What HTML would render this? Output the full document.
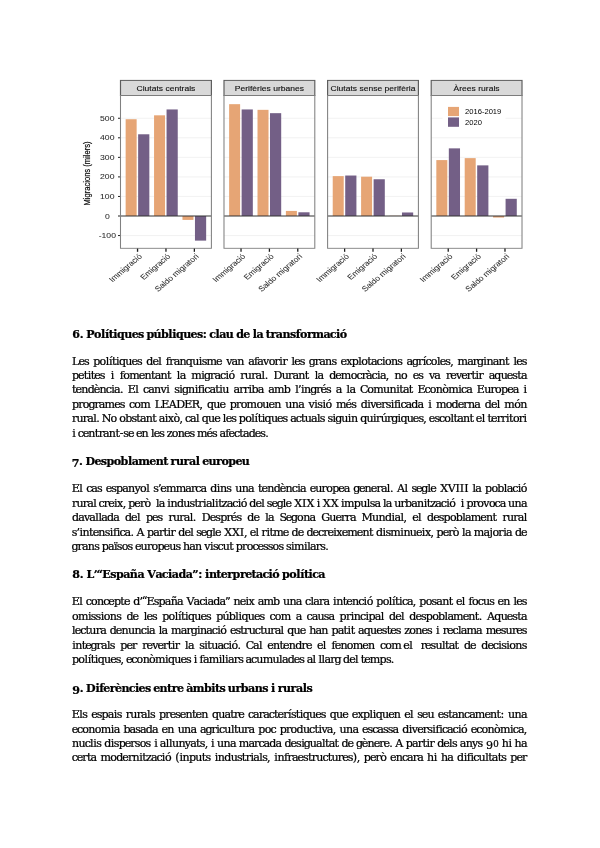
<!DOCTYPE html>
<html lang="ca">
<head>
<meta charset="utf-8">
<title>Document</title>
<style>
html,body{margin:0;padding:0;background:#fff;}
body{width:600px;height:848px;overflow:hidden;position:relative;}
svg{position:absolute;left:0;top:0;display:block;}
.r{font-family:"DejaVu Serif","Liberation Serif",serif;font-size:11.09px;white-space:pre;fill:#000;stroke:#000;stroke-width:0.24px;}
.b{font-family:"DejaVu Serif","Liberation Serif",serif;font-size:11.09px;font-weight:bold;white-space:pre;fill:#000;stroke:#000;stroke-width:0.24px;}
.c text{font-family:"Liberation Sans",sans-serif;}
</style>
</head>
<body>
<svg class="c" width="600" height="320" viewBox="0 0 600 320" role="img" aria-label="Migracions (milers)">
<defs><filter id="bl" x="-5%" y="-5%" width="110%" height="110%"><feGaussianBlur stdDeviation="0.45"/></filter></defs>
<g filter="url(#bl)"><g transform="scale(1.17 1)" stroke="#333" stroke-width="0">
<text x="91.71" y="238.15" text-anchor="middle" font-size="7.4" fill="#2a2a2a" stroke="#2a2a2a" stroke-width="0.05">-100</text>
<line x1="100.85" x2="102.99" y1="235.55" y2="235.55" stroke="#222" stroke-width="1"/>
<text x="91.71" y="218.60" text-anchor="middle" font-size="7.4" fill="#2a2a2a" stroke="#2a2a2a" stroke-width="0.05">0</text>
<line x1="100.85" x2="102.99" y1="216.00" y2="216.00" stroke="#222" stroke-width="1"/>
<text x="91.71" y="199.05" text-anchor="middle" font-size="7.4" fill="#2a2a2a" stroke="#2a2a2a" stroke-width="0.05">100</text>
<line x1="100.85" x2="102.99" y1="196.45" y2="196.45" stroke="#222" stroke-width="1"/>
<text x="91.71" y="179.50" text-anchor="middle" font-size="7.4" fill="#2a2a2a" stroke="#2a2a2a" stroke-width="0.05">200</text>
<line x1="100.85" x2="102.99" y1="176.90" y2="176.90" stroke="#222" stroke-width="1"/>
<text x="91.71" y="159.95" text-anchor="middle" font-size="7.4" fill="#2a2a2a" stroke="#2a2a2a" stroke-width="0.05">300</text>
<line x1="100.85" x2="102.99" y1="157.35" y2="157.35" stroke="#222" stroke-width="1"/>
<text x="91.71" y="140.40" text-anchor="middle" font-size="7.4" fill="#2a2a2a" stroke="#2a2a2a" stroke-width="0.05">400</text>
<line x1="100.85" x2="102.99" y1="137.80" y2="137.80" stroke="#222" stroke-width="1"/>
<text x="91.71" y="120.85" text-anchor="middle" font-size="7.4" fill="#2a2a2a" stroke="#2a2a2a" stroke-width="0.05">500</text>
<line x1="100.85" x2="102.99" y1="118.25" y2="118.25" stroke="#222" stroke-width="1"/>
<text transform="translate(76.50 173.5) rotate(-90)" text-anchor="middle" font-size="7.6" fill="#000" stroke="#000" stroke-width="0.15">Migracions (milers)</text>
<rect x="102.99" y="95.50" width="77.69" height="152.80" fill="#fff"/>
<line x1="102.99" x2="180.68" y1="235.55" y2="235.55" stroke="#ebebeb" stroke-width="0.6"/>
<line x1="102.99" x2="180.68" y1="196.45" y2="196.45" stroke="#ebebeb" stroke-width="0.6"/>
<line x1="102.99" x2="180.68" y1="176.90" y2="176.90" stroke="#ebebeb" stroke-width="0.6"/>
<line x1="102.99" x2="180.68" y1="157.35" y2="157.35" stroke="#ebebeb" stroke-width="0.6"/>
<line x1="102.99" x2="180.68" y1="137.80" y2="137.80" stroke="#ebebeb" stroke-width="0.6"/>
<line x1="102.99" x2="180.68" y1="118.25" y2="118.25" stroke="#ebebeb" stroke-width="0.6"/>
<rect x="107.39" y="119.23" width="9.40" height="96.77" fill="#E6A574"/>
<rect x="118.07" y="134.28" width="9.57" height="81.72" fill="#735F86"/>
<rect x="131.67" y="115.32" width="9.40" height="100.68" fill="#E6A574"/>
<rect x="142.35" y="109.45" width="9.57" height="106.55" fill="#735F86"/>
<rect x="155.95" y="216.00" width="9.40" height="3.91" fill="#E6A574"/>
<rect x="166.63" y="216.00" width="9.57" height="24.63" fill="#735F86"/>
<line x1="102.99" x2="180.68" y1="216.00" y2="216.00" stroke="#333" stroke-width="0.9"/>
<rect x="102.99" y="80.40" width="77.69" height="15.10" fill="#d9d9d9" stroke="#5c5c5c" stroke-width="1"/>
<text x="141.84" y="90.90" text-anchor="middle" font-size="7.3" fill="#111" stroke="#111" stroke-width="0.12">Ciutats centrals</text>
<rect x="102.99" y="95.50" width="77.69" height="152.80" fill="none" stroke="#808080" stroke-width="0.9"/>
<line x1="117.56" x2="117.56" y1="248.60" y2="251.80" stroke="#1a1a1a" stroke-width="1.1"/>
<text transform="translate(121.83 256.90) rotate(-45)" text-anchor="end" font-size="7.4" fill="#2a2a2a" stroke="#2a2a2a" stroke-width="0.05">Immigració</text>
<line x1="141.84" x2="141.84" y1="248.60" y2="251.80" stroke="#1a1a1a" stroke-width="1.1"/>
<text transform="translate(146.11 256.90) rotate(-45)" text-anchor="end" font-size="7.4" fill="#2a2a2a" stroke="#2a2a2a" stroke-width="0.05">Emigració</text>
<line x1="166.12" x2="166.12" y1="248.60" y2="251.80" stroke="#1a1a1a" stroke-width="1.1"/>
<text transform="translate(170.39 256.90) rotate(-45)" text-anchor="end" font-size="7.4" fill="#2a2a2a" stroke="#2a2a2a" stroke-width="0.05">Saldo migratori</text>
<rect x="191.45" y="95.50" width="77.61" height="152.80" fill="#fff"/>
<line x1="191.45" x2="269.06" y1="235.55" y2="235.55" stroke="#ebebeb" stroke-width="0.6"/>
<line x1="191.45" x2="269.06" y1="196.45" y2="196.45" stroke="#ebebeb" stroke-width="0.6"/>
<line x1="191.45" x2="269.06" y1="176.90" y2="176.90" stroke="#ebebeb" stroke-width="0.6"/>
<line x1="191.45" x2="269.06" y1="157.35" y2="157.35" stroke="#ebebeb" stroke-width="0.6"/>
<line x1="191.45" x2="269.06" y1="137.80" y2="137.80" stroke="#ebebeb" stroke-width="0.6"/>
<line x1="191.45" x2="269.06" y1="118.25" y2="118.25" stroke="#ebebeb" stroke-width="0.6"/>
<rect x="195.83" y="104.17" width="9.40" height="111.83" fill="#E6A574"/>
<rect x="206.52" y="109.45" width="9.57" height="106.55" fill="#735F86"/>
<rect x="220.09" y="109.84" width="9.40" height="106.16" fill="#E6A574"/>
<rect x="230.77" y="113.17" width="9.57" height="102.83" fill="#735F86"/>
<rect x="244.34" y="210.92" width="9.40" height="5.08" fill="#E6A574"/>
<rect x="255.02" y="212.29" width="9.57" height="3.71" fill="#735F86"/>
<line x1="191.45" x2="269.06" y1="216.00" y2="216.00" stroke="#333" stroke-width="0.9"/>
<rect x="191.45" y="80.40" width="77.61" height="15.10" fill="#d9d9d9" stroke="#5c5c5c" stroke-width="1"/>
<text x="230.26" y="90.90" text-anchor="middle" font-size="7.3" fill="#111" stroke="#111" stroke-width="0.12">Perifèries urbanes</text>
<rect x="191.45" y="95.50" width="77.61" height="152.80" fill="none" stroke="#808080" stroke-width="0.9"/>
<line x1="206.00" x2="206.00" y1="248.60" y2="251.80" stroke="#1a1a1a" stroke-width="1.1"/>
<text transform="translate(210.28 256.90) rotate(-45)" text-anchor="end" font-size="7.4" fill="#2a2a2a" stroke="#2a2a2a" stroke-width="0.05">Immigració</text>
<line x1="230.26" x2="230.26" y1="248.60" y2="251.80" stroke="#1a1a1a" stroke-width="1.1"/>
<text transform="translate(234.53 256.90) rotate(-45)" text-anchor="end" font-size="7.4" fill="#2a2a2a" stroke="#2a2a2a" stroke-width="0.05">Emigració</text>
<line x1="254.51" x2="254.51" y1="248.60" y2="251.80" stroke="#1a1a1a" stroke-width="1.1"/>
<text transform="translate(258.78 256.90) rotate(-45)" text-anchor="end" font-size="7.4" fill="#2a2a2a" stroke="#2a2a2a" stroke-width="0.05">Saldo migratori</text>
<rect x="280.00" y="95.50" width="77.61" height="152.80" fill="#fff"/>
<line x1="280.00" x2="357.61" y1="235.55" y2="235.55" stroke="#ebebeb" stroke-width="0.6"/>
<line x1="280.00" x2="357.61" y1="196.45" y2="196.45" stroke="#ebebeb" stroke-width="0.6"/>
<line x1="280.00" x2="357.61" y1="176.90" y2="176.90" stroke="#ebebeb" stroke-width="0.6"/>
<line x1="280.00" x2="357.61" y1="157.35" y2="157.35" stroke="#ebebeb" stroke-width="0.6"/>
<line x1="280.00" x2="357.61" y1="137.80" y2="137.80" stroke="#ebebeb" stroke-width="0.6"/>
<line x1="280.00" x2="357.61" y1="118.25" y2="118.25" stroke="#ebebeb" stroke-width="0.6"/>
<rect x="284.38" y="176.12" width="9.40" height="39.88" fill="#E6A574"/>
<rect x="295.06" y="175.53" width="9.57" height="40.47" fill="#735F86"/>
<rect x="308.63" y="176.70" width="9.40" height="39.30" fill="#E6A574"/>
<rect x="319.32" y="179.25" width="9.57" height="36.75" fill="#735F86"/>
<rect x="332.88" y="215.80" width="9.40" height="0.20" fill="#E6A574"/>
<rect x="343.57" y="212.48" width="9.57" height="3.52" fill="#735F86"/>
<line x1="280.00" x2="357.61" y1="216.00" y2="216.00" stroke="#333" stroke-width="0.9"/>
<rect x="280.00" y="80.40" width="77.61" height="15.10" fill="#d9d9d9" stroke="#5c5c5c" stroke-width="1"/>
<text x="318.80" y="90.90" text-anchor="middle" font-size="7.3" fill="#111" stroke="#111" stroke-width="0.12">Ciutats sense perifèria</text>
<rect x="280.00" y="95.50" width="77.61" height="152.80" fill="none" stroke="#808080" stroke-width="0.9"/>
<line x1="294.55" x2="294.55" y1="248.60" y2="251.80" stroke="#1a1a1a" stroke-width="1.1"/>
<text transform="translate(298.82 256.90) rotate(-45)" text-anchor="end" font-size="7.4" fill="#2a2a2a" stroke="#2a2a2a" stroke-width="0.05">Immigració</text>
<line x1="318.80" x2="318.80" y1="248.60" y2="251.80" stroke="#1a1a1a" stroke-width="1.1"/>
<text transform="translate(323.08 256.90) rotate(-45)" text-anchor="end" font-size="7.4" fill="#2a2a2a" stroke="#2a2a2a" stroke-width="0.05">Emigració</text>
<line x1="343.06" x2="343.06" y1="248.60" y2="251.80" stroke="#1a1a1a" stroke-width="1.1"/>
<text transform="translate(347.33 256.90) rotate(-45)" text-anchor="end" font-size="7.4" fill="#2a2a2a" stroke="#2a2a2a" stroke-width="0.05">Saldo migratori</text>
<rect x="368.55" y="95.50" width="77.61" height="152.80" fill="#fff"/>
<line x1="368.55" x2="446.15" y1="235.55" y2="235.55" stroke="#ebebeb" stroke-width="0.6"/>
<line x1="368.55" x2="446.15" y1="196.45" y2="196.45" stroke="#ebebeb" stroke-width="0.6"/>
<line x1="368.55" x2="446.15" y1="176.90" y2="176.90" stroke="#ebebeb" stroke-width="0.6"/>
<line x1="368.55" x2="446.15" y1="157.35" y2="157.35" stroke="#ebebeb" stroke-width="0.6"/>
<line x1="368.55" x2="446.15" y1="137.80" y2="137.80" stroke="#ebebeb" stroke-width="0.6"/>
<line x1="368.55" x2="446.15" y1="118.25" y2="118.25" stroke="#ebebeb" stroke-width="0.6"/>
<rect x="372.93" y="160.09" width="9.40" height="55.91" fill="#E6A574"/>
<rect x="383.61" y="148.36" width="9.57" height="67.64" fill="#735F86"/>
<rect x="397.18" y="158.13" width="9.40" height="57.87" fill="#E6A574"/>
<rect x="407.86" y="165.37" width="9.57" height="50.63" fill="#735F86"/>
<rect x="421.43" y="216.00" width="9.40" height="1.56" fill="#E6A574"/>
<rect x="432.12" y="198.80" width="9.57" height="17.20" fill="#735F86"/>
<line x1="368.55" x2="446.15" y1="216.00" y2="216.00" stroke="#333" stroke-width="0.9"/>
<rect x="368.55" y="80.40" width="77.61" height="15.10" fill="#d9d9d9" stroke="#5c5c5c" stroke-width="1"/>
<text x="407.35" y="90.90" text-anchor="middle" font-size="7.3" fill="#111" stroke="#111" stroke-width="0.12">Àrees rurals</text>
<rect x="368.55" y="95.50" width="77.61" height="152.80" fill="none" stroke="#808080" stroke-width="0.9"/>
<line x1="383.10" x2="383.10" y1="248.60" y2="251.80" stroke="#1a1a1a" stroke-width="1.1"/>
<text transform="translate(387.37 256.90) rotate(-45)" text-anchor="end" font-size="7.4" fill="#2a2a2a" stroke="#2a2a2a" stroke-width="0.05">Immigració</text>
<line x1="407.35" x2="407.35" y1="248.60" y2="251.80" stroke="#1a1a1a" stroke-width="1.1"/>
<text transform="translate(411.62 256.90) rotate(-45)" text-anchor="end" font-size="7.4" fill="#2a2a2a" stroke="#2a2a2a" stroke-width="0.05">Emigració</text>
<line x1="431.60" x2="431.60" y1="248.60" y2="251.80" stroke="#1a1a1a" stroke-width="1.1"/>
<text transform="translate(435.88 256.90) rotate(-45)" text-anchor="end" font-size="7.4" fill="#2a2a2a" stroke="#2a2a2a" stroke-width="0.05">Saldo migratori</text>
<rect x="378.21" y="101" width="53.85" height="30" fill="#fff"/>
<rect x="382.91" y="106.9" width="9.40" height="9.2" fill="#E6A574"/>
<rect x="382.91" y="117.4" width="9.40" height="9.4" fill="#735F86"/>
<text x="397.44" y="114.0" font-size="6.5" fill="#000">2016-2019</text>
<text x="397.44" y="125.0" font-size="6.5" fill="#000">2020</text>
</g></g>
</svg>
<svg class="t" width="600" height="848" viewBox="0 0 600 848" xml:space="preserve">
<g class="h"><text class="b" x="72.27 79.87 83.13 86.25 94.10 101.08 104.97 108.68 113.30 117.11 124.30 131.63 137.92 143.32 146.40 153.56 161.05 168.37 172.26 176.08 183.26 190.59 196.89 202.82 206.44 209.33 215.43 219.21 225.83 233.07 236.21 243.32 249.45 252.63 256.41 262.84 265.84 270.43 275.85 282.55 290.03 295.65 299.90 306.88 312.24 323.40 329.87 336.01 339.84" y="337.60">6. Polítiques públiques: clau de la transformació</text></g>
<g class="p">
<text class="r" x="71.96 78.39 83.91 88.72 93.23 99.60 105.73 108.94 112.03 116.03 118.99 125.27 131.43 136.95 141.76 146.27 152.40 158.18 161.12 165.75 169.22 173.64 179.45 185.85 192.13 198.75 201.69 206.56 216.10 221.64 226.15 231.54 237.35 243.78 248.15 254.01 257.36 263.10 268.64 274.58 279.36 282.38 286.87 291.57 294.33 299.84 304.65 308.81 314.81 319.22 325.04 331.43 336.24 340.52 346.15 351.69 358.23 361.24 367.25 370.89 376.41 381.89 384.93 390.96 397.35 402.16 406.54 411.92 417.92 422.69 425.50 430.77 436.91 439.67 445.18 450.15 452.99 457.49 467.13 472.85 477.05 483.28 486.38 492.72 498.53 505.07 508.79 513.49 516.25 521.76" y="364.50">Les polítiques del franquisme van afavorir les grans explotacions agrícoles, marginant les</text>
<text class="r" x="71.93 78.05 83.71 87.71 90.80 94.35 99.86 104.67 110.83 113.80 119.85 123.35 129.30 138.84 144.51 151.05 154.69 160.50 167.04 170.76 176.87 179.73 185.41 191.33 201.32 204.00 210.00 214.41 219.93 225.41 228.45 234.35 240.27 244.81 251.20 255.61 261.53 264.63 267.46 273.47 281.70 288.08 292.50 298.31 304.85 308.57 314.69 317.54 323.22 329.15 335.29 340.87 350.66 356.39 361.64 366.05 371.57 377.05 379.94 385.78 388.61 394.62 401.11 407.01 412.71 418.22 423.04 428.97 434.37 440.05 445.97 450.29 455.89 461.19 466.78 471.39 475.39 478.41 482.91 488.70 494.37 500.64 506.81 512.32 517.25 520.89" y="378.95">petites i fomentant la migració rural. Durant la democràcia, no es va revertir aquesta</text>
<text class="r" x="71.99 75.54 81.21 87.69 93.82 99.49 105.75 111.23 114.12 119.96 122.79 127.79 135.27 138.21 143.04 148.16 153.97 160.45 166.20 169.17 174.14 179.23 181.91 187.99 194.69 197.84 201.54 204.35 209.47 215.27 219.27 222.29 228.62 233.54 239.27 243.81 248.58 251.54 257.69 263.37 268.29 274.02 283.71 289.95 295.18 298.03 300.91 304.01 310.13 316.13 320.45 325.97 330.78 335.70 341.38 346.61 349.46 355.14 359.89 367.34 373.28 383.04 389.51 396.21 399.30 402.94 408.74 412.46 417.46 424.54 429.81 435.84 442.33 448.27 458.27 461.08 466.19 471.87 476.87 484.16 490.55 495.11 501.06 507.19 512.65 518.33 523.60" y="393.40">tendència. El canvi significatiu arriba amb l’ingrés a la Comunitat Econòmica Europea i</text>
<text class="r" x="71.93 78.27 82.84 88.44 94.44 98.85 104.58 114.13 119.64 124.45 128.99 134.26 140.20 149.92 154.71 161.31 168.70 176.13 184.31 191.70 199.51 202.34 207.03 213.31 219.47 225.01 229.76 236.11 240.68 246.62 256.41 262.35 268.52 274.19 280.61 285.35 291.82 298.16 303.84 308.60 314.35 317.30 322.39 325.43 331.33 336.08 345.62 351.13 355.94 360.70 367.28 370.32 375.62 381.20 385.67 390.76 393.91 397.62 400.43 405.55 411.28 417.51 423.19 428.16 431.14 435.89 445.67 451.62 457.76 463.34 467.97 474.31 479.99 484.75 490.88 496.66 499.59 504.34 514.13 520.15" y="407.85">programes com LEADER, que promouen una visió més diversificada i moderna del món</text>
<text class="r" x="71.92 76.46 82.85 87.27 93.18 96.28 99.11 101.79 110.54 116.43 119.35 125.23 131.44 136.37 140.01 145.82 152.36 156.08 158.85 164.80 167.86 173.42 179.48 182.32 185.00 190.12 196.04 198.97 201.80 208.08 214.24 219.78 222.87 225.63 231.14 235.96 238.86 245.23 251.36 254.57 257.66 261.66 264.62 270.90 277.06 282.57 287.39 290.15 295.67 300.99 304.76 311.01 316.93 319.84 324.65 327.47 332.56 335.24 341.24 347.85 350.95 357.37 360.21 366.48 373.10 376.12 380.66 387.05 391.25 397.47 400.43 406.71 412.87 418.39 423.36 426.19 428.87 434.38 439.03 444.30 450.44 453.49 457.13 462.94 469.48 473.20 475.87 481.65 484.59 487.55 491.10 496.68 501.23 506.00 509.09 512.88 518.83 523.60" y="422.30">rural. No obstant això, cal que les polítiques actuals siguin quirúrgiques, escoltant el territori</text>
<text class="r" x="72.15 75.12 77.64 82.66 88.33 94.87 98.64 103.06 108.87 115.40 119.75 123.25 127.89 133.43 135.93 141.60 148.02 150.93 153.70 159.21 164.02 166.66 171.68 177.71 183.96 189.47 194.29 197.01 206.55 212.06 216.88 219.47 225.33 228.59 233.96 239.28 242.92 248.66 254.79 260.30 265.27" y="436.75">i centrant-se en les zones més afectades.</text>
</g>
<g class="h"><text class="b" x="71.82 78.98 82.25 85.45 94.51 100.80 106.43 113.67 120.57 127.89 131.67 138.28 149.28 155.68 163.15 167.40 170.59 175.94 183.52 188.94 195.70 199.22 202.16 208.48 216.06 221.49 228.37 235.44 241.76" y="466.95 464.65 464.65 464.65 464.65 464.65 464.65 464.65 464.65 464.65 464.65 464.65 464.65 464.65 464.65 464.65 464.65 464.65 464.65 464.65 464.65 464.65 464.65 464.65 464.65 464.65 464.65 464.65 464.65">7. Despoblament rural europeu</text></g>
<g class="p">
<text class="r" x="71.87 79.36 82.29 86.20 91.32 96.97 101.78 105.68 111.19 116.06 122.27 128.08 134.53 140.04 146.17 149.11 153.15 157.88 160.30 165.89 175.65 185.29 191.01 195.35 200.46 206.15 210.27 216.85 219.95 226.35 231.16 235.28 241.75 248.09 253.77 257.95 261.50 267.17 273.65 279.78 285.45 291.71 297.19 300.08 305.76 309.65 315.24 321.62 326.19 332.14 338.27 343.73 349.41 353.18 358.95 364.62 370.87 376.46 380.88 386.79 389.89 392.72 396.93 404.47 407.40 411.44 416.08 421.33 427.52 430.28 435.82 440.30 447.87 455.54 459.86 464.18 468.11 472.41 475.27 480.95 485.07 491.44 497.32 503.79 506.64 512.16 517.63 520.68" y="492.15">El cas espanyol s’emmarca dins una tendència europea general. Al segle XVIII la població</text>
<text class="r" x="71.92 76.46 82.85 87.27 93.18 96.12 98.59 103.83 108.16 113.97 117.03 122.68 125.52 128.20 134.33 139.91 144.48 150.38 155.88 158.73 164.41 167.32 170.43 176.90 183.26 189.57 194.50 198.27 203.04 205.93 211.85 215.06 218.15 221.84 226.71 232.23 237.70 240.75 246.64 249.33 255.46 261.24 264.18 266.78 271.42 276.66 282.85 285.61 291.15 294.20 302.06 306.40 313.86 316.77 319.74 322.79 330.67 338.13 341.04 344.06 353.83 360.18 366.75 369.66 374.39 380.07 382.94 385.80 391.48 394.16 400.54 405.02 411.17 416.98 423.68 426.77 430.46 435.33 440.85 446.32 449.37 455.26 460.80 463.78 466.46 472.81 477.37 483.33 488.88 494.61 499.73 505.41 508.09 514.55 520.89" y="506.60">rural creix, però la industrialització del segle XIX i XX impulsa la urbanització i provoca una</text>
<text class="r" x="71.93 78.16 83.90 89.29 95.21 98.38 101.23 106.97 113.20 118.88 124.97 131.10 136.88 139.82 145.91 152.03 157.55 162.36 168.45 172.99 179.37 183.79 189.71 192.80 195.64 201.81 209.82 215.33 220.20 226.54 230.87 236.38 241.20 247.29 253.42 258.96 265.24 268.09 273.77 279.55 285.86 291.10 297.12 303.15 309.49 315.17 321.23 329.30 335.46 341.05 345.59 350.01 355.69 361.62 372.06 378.53 385.01 391.59 394.48 400.40 403.50 406.33 412.20 417.97 420.91 427.00 433.14 438.65 443.51 449.89 455.77 462.24 465.09 470.82 480.36 486.03 492.57 496.29 502.38 506.92 513.31 517.72 523.64" y="521.05">davallada del pes rural. Després de la Segona Guerra Mundial, el despoblament rural</text>
<text class="r" x="71.85 76.58 79.45 82.55 89.09 92.64 98.31 104.71 109.80 112.95 116.65 119.46 124.58 130.42 133.25 136.52 143.82 147.00 153.22 158.95 163.56 167.56 170.58 175.08 178.26 184.40 190.17 193.11 196.21 200.85 206.09 212.28 215.04 220.58 224.13 232.01 239.86 243.95 246.78 249.74 255.51 258.45 261.62 266.40 269.49 273.26 282.80 288.34 291.52 297.66 303.20 306.38 312.51 317.89 323.14 327.46 333.28 336.33 341.65 347.24 356.78 362.45 368.99 372.71 375.90 382.48 385.43 390.29 400.28 403.38 409.85 416.02 421.83 424.89 430.54 433.38 436.56 442.68 448.27 452.84 458.73 462.10 464.95 470.63 473.81 483.45 489.45 492.43 498.37 503.15 506.04 511.72 514.90 521.04" y="535.50">s’intensifica. A partir del segle XXI, el ritme de decreixement disminueix, però la majoria de</text>
<text class="r" x="71.58 77.57 81.99 87.80 94.20 99.01 101.74 107.96 113.91 116.86 121.74 127.61 132.43 134.93 140.51 146.90 151.47 157.41 163.54 169.13 175.44 180.25 183.01 189.30 195.11 201.53 204.27 210.02 212.96 217.62 222.86 229.32 233.04 235.76 242.11 246.68 252.41 257.44 262.95 267.74 272.62 278.49 283.31 285.95 291.04 294.07 304.06 307.27 310.12 315.85 320.32 325.29" y="549.95">grans països europeus han viscut processos similars.</text>
</g>
<g class="h"><text class="b" x="72.27 79.87 83.13 86.39 93.65 96.61 102.36 110.31 115.93 123.16 129.86 137.44 143.87 147.13 155.40 161.87 168.01 171.83 178.54 185.82 192.29 198.23 201.86 205.07 208.90 216.37 220.71 227.18 232.58 239.89 245.14 251.42 255.93 262.40 268.54 272.37 279.02 282.10 289.34 296.32 300.21 303.92 308.54 312.14 318.17" y="577.75">8. L’“España Vaciada”: interpretació política</text></g>
<g class="p">
<text class="r" x="71.87 79.36 82.29 85.78 91.05 97.07 103.33 108.36 113.95 120.37 123.92 129.46 133.16 139.39 141.85 146.53 153.75 158.62 164.84 170.65 176.99 182.67 186.43 193.62 199.13 204.61 207.50 213.24 219.46 225.01 229.70 233.48 239.72 245.54 248.60 254.09 257.66 263.39 273.09 279.32 283.01 289.48 295.82 301.50 304.99 310.42 313.28 319.01 323.42 329.10 333.03 336.13 342.67 346.22 351.89 358.15 363.62 366.67 372.56 376.26 382.63 388.77 391.98 395.07 399.07 401.88 407.00 412.84 415.67 419.37 425.74 431.61 436.34 442.16 448.69 452.42 455.89 461.67 464.60 468.43 471.93 477.66 482.91 489.22 494.03 497.51 503.18 509.60 513.49 516.25 521.76" y="605.25">El concepte d’“España Vaciada” neix amb una clara intenció política, posant el focus en les</text>
<text class="r" x="71.95 77.89 87.88 90.83 95.61 100.70 103.75 109.78 116.17 120.98 126.41 132.54 138.08 143.69 146.45 151.96 156.78 162.20 168.57 174.71 177.92 181.01 185.01 187.96 194.24 200.41 205.92 210.73 216.15 222.50 228.82 235.29 238.51 241.46 247.74 253.91 259.42 264.23 269.44 274.71 280.65 290.37 295.66 301.34 306.55 311.66 317.39 323.70 328.43 334.11 339.54 345.88 350.66 353.76 360.02 365.49 368.52 374.74 380.66 383.59 389.02 395.15 400.93 403.86 409.29 415.42 420.93 425.80 432.17 438.05 444.52 447.38 453.11 462.65 468.32 474.86 478.74 481.57 487.08 494.37 500.64 506.81 512.32 517.25 520.89" y="619.70">omissions de les polítiques públiques com a causa principal del despoblament. Aquesta</text>
<text class="r" x="72.11 74.87 80.25 85.57 89.34 95.72 100.14 105.82 109.66 115.79 121.46 127.93 134.40 140.66 146.13 149.03 154.71 158.73 161.59 167.27 171.10 180.74 186.47 190.66 196.89 200.00 206.34 211.85 217.33 220.37 226.27 229.88 235.40 240.33 244.10 248.64 254.82 260.13 263.90 270.28 274.70 280.62 283.55 287.33 293.60 299.77 305.31 309.18 315.47 321.28 327.70 331.54 337.76 343.56 347.56 350.65 354.37 358.08 363.74 370.02 376.19 381.70 386.63 390.18 395.69 400.50 404.25 409.28 415.31 421.56 427.07 431.88 435.95 438.92 442.75 447.08 452.46 457.89 460.75 466.48 476.11 481.79 485.63 495.17 500.68 505.54 511.92 516.25 521.76" y="634.15">lectura denuncia la marginació estructural que han patit aquestes zones i reclama mesures</text>
<text class="r" x="72.15 75.25 81.79 85.34 90.58 96.58 101.00 106.92 109.82 114.64 120.33 126.46 132.04 136.54 142.23 146.55 152.15 157.45 163.04 167.65 171.65 174.67 179.17 185.05 187.90 193.58 199.19 204.28 207.37 211.14 217.40 222.92 228.39 231.44 237.49 240.33 245.71 253.01 258.93 261.87 267.33 273.00 279.54 283.09 288.76 295.24 301.59 305.92 311.45 316.92 322.70 325.63 331.45 334.71 340.38 346.87 352.82 362.36 368.03 374.45 379.93 385.20 391.14 400.86 403.36 409.14 412.07 420.72 425.05 430.56 435.42 442.00 445.05 448.69 454.49 458.21 463.91 470.04 475.58 481.28 487.41 492.79 498.26 501.21 506.30 509.34 515.37 521.76" y="648.60">integrals per revertir la situació. Cal entendre el fenomen com el resultat de decisions</text>
<text class="r" x="71.93 78.30 84.43 87.64 90.73 94.73 97.69 103.97 110.13 115.65 120.62 123.45 125.96 131.33 136.60 142.63 149.12 155.07 165.06 168.01 174.29 180.46 185.97 190.78 193.74 196.71 199.56 202.91 208.64 218.63 221.84 225.05 227.94 233.67 238.14 242.95 245.55 251.07 256.31 262.70 272.46 279.03 281.89 287.63 293.76 299.27 304.08 306.68 312.60 315.53 318.44 321.62 324.47 330.20 334.40 340.35 343.08 349.21 354.99 357.92 360.72 364.27 369.85 379.62 385.89 390.87" y="663.05">polítiques, econòmiques i familiars acumulades al llarg del temps.</text>
</g>
<g class="h"><text class="b" x="72.16 79.64 82.91 86.12 95.45 99.24 103.31 109.78 115.03 121.43 128.79 134.93 138.58 144.88 150.27 153.21 159.61 167.08 171.67 176.92 183.05 186.16 192.77 203.93 211.29 215.00 219.42 224.81 227.85 235.43 240.85 248.09 254.79 262.28 267.67 270.88 274.45 277.63 282.99 290.57 295.99 302.74 306.43" y="693.80 691.50 691.50 691.50 691.50 691.50 691.50 691.50 691.50 691.50 691.50 691.50 691.50 691.50 691.50 691.50 691.50 691.50 691.50 691.50 691.50 691.50 691.50 691.50 691.50 691.50 691.50 691.50 691.50 691.50 691.50 691.50 691.50 691.50 691.50 691.50 691.50 691.50 691.50 691.50 691.50 691.50 691.50">9. Diferències entre àmbits urbans i rurals</text></g>
<g class="p">
<text class="r" x="71.87 79.36 82.27 87.08 91.14 96.66 101.52 107.74 113.70 116.64 121.46 125.74 130.29 136.67 141.09 147.01 149.91 154.73 159.02 165.36 169.69 175.20 179.84 185.51 192.05 195.60 201.27 207.69 211.91 218.19 224.45 230.25 234.02 238.34 243.88 247.96 253.07 258.80 263.22 268.73 274.05 277.60 283.18 287.96 290.90 295.83 299.83 302.79 309.07 315.23 320.75 325.56 329.78 336.06 342.23 347.77 351.83 357.46 363.00 369.54 372.75 375.71 381.98 388.15 393.82 400.24 404.31 410.08 413.02 417.23 421.87 427.46 433.80 437.86 443.37 448.30 451.95 457.76 464.02 469.13 474.86 484.40 490.07 496.61 500.62 503.80 508.09 514.55 520.89" y="718.10">Els espais rurals presenten quatre característiques que expliquen el seu estancament: una</text>
<text class="r" x="71.70 77.08 82.35 88.37 94.87 100.81 110.80 113.70 119.38 123.41 129.56 135.21 139.95 145.68 151.91 157.59 161.46 167.13 173.56 177.65 184.12 190.46 196.14 200.11 205.49 211.49 216.26 219.07 224.32 230.90 233.95 237.72 244.10 248.52 254.20 258.30 264.67 270.40 275.60 279.70 286.05 290.62 296.57 302.92 309.10 314.41 318.41 321.45 326.84 332.68 335.51 339.61 346.08 352.42 358.10 361.98 367.49 372.14 377.26 382.91 387.70 392.43 398.11 402.21 408.80 411.83 417.13 422.72 427.19 432.28 435.43 439.13 441.94 447.06 452.58 458.05 461.10 466.99 470.87 476.25 481.52 487.54 494.04 499.98 509.97 512.78 517.90 523.74" y="732.55">economia basada en una agricultura poc productiva, una escassa diversificació econòmica,</text>
<text class="r" x="72.00 78.47 84.65 90.09 93.30 96.24 101.06 104.26 110.84 113.78 118.65 124.78 130.36 134.83 139.72 145.59 150.40 154.29 157.26 159.86 165.78 168.95 171.93 178.40 184.84 190.20 195.99 199.69 204.66 207.50 210.92 213.89 217.08 223.55 229.89 235.57 238.76 248.40 254.12 258.46 263.58 269.31 275.54 281.22 284.42 290.55 296.06 301.15 303.83 309.83 316.08 322.00 325.05 328.70 334.49 338.22 341.42 347.55 353.09 355.93 361.71 367.38 373.63 379.22 383.54 389.24 392.07 395.36 402.66 405.85 412.07 417.80 422.41 426.41 429.43 433.93 437.13 443.26 449.04 451.95 456.76 459.83 465.64 472.08 477.49 482.30 485.95 493.27 499.00 501.75 508.40 511.38 514.60 520.89" y="747.00 747.00 747.00 747.00 747.00 747.00 747.00 747.00 747.00 747.00 747.00 747.00 747.00 747.00 747.00 747.00 747.00 747.00 747.00 747.00 747.00 747.00 747.00 747.00 747.00 747.00 747.00 747.00 747.00 747.00 747.00 747.00 747.00 747.00 747.00 747.00 747.00 747.00 747.00 747.00 747.00 747.00 747.00 747.00 747.00 747.00 747.00 747.00 747.00 747.00 747.00 747.00 747.00 747.00 747.00 747.00 747.00 747.00 747.00 747.00 747.00 747.00 747.00 747.00 747.00 747.00 747.00 747.00 747.00 747.00 747.00 747.00 747.00 747.00 747.00 747.00 747.00 747.00 747.00 747.00 747.00 747.00 747.00 747.00 747.00 747.00 749.30 747.00 747.00 747.00 747.00 747.00 747.00 747.00">nuclis dispersos i allunyats, i una marcada desigualtat de gènere. A partir dels anys 9<tspan font-size="8.65">0</tspan> hi ha</text>
<text class="r" x="71.71 76.74 82.32 86.94 90.58 96.26 100.45 110.23 116.19 122.32 127.91 132.53 139.23 142.32 146.01 150.88 156.40 161.87 164.92 170.81 175.30 179.39 182.50 188.97 195.32 201.77 205.47 210.28 214.70 217.80 224.28 230.63 236.94 241.87 245.64 250.41 253.31 259.22 262.13 267.11 269.94 274.36 277.46 284.06 287.53 291.95 297.46 302.97 307.90 311.67 316.21 322.39 327.70 331.47 337.86 342.18 347.69 352.85 356.83 359.67 363.86 369.98 375.57 380.14 386.04 390.00 395.67 401.93 407.05 412.77 417.19 422.87 427.09 433.74 436.71 440.94 447.23 452.91 457.10 463.69 466.84 470.54 473.35 478.60 485.17 488.22 491.87 497.66 501.36 506.17 510.36 516.49 522.08" y="761.45">certa modernització (inputs industrials, infraestructures), però encara hi ha dificultats per</text>
</g>
</svg>
</body>
</html>
